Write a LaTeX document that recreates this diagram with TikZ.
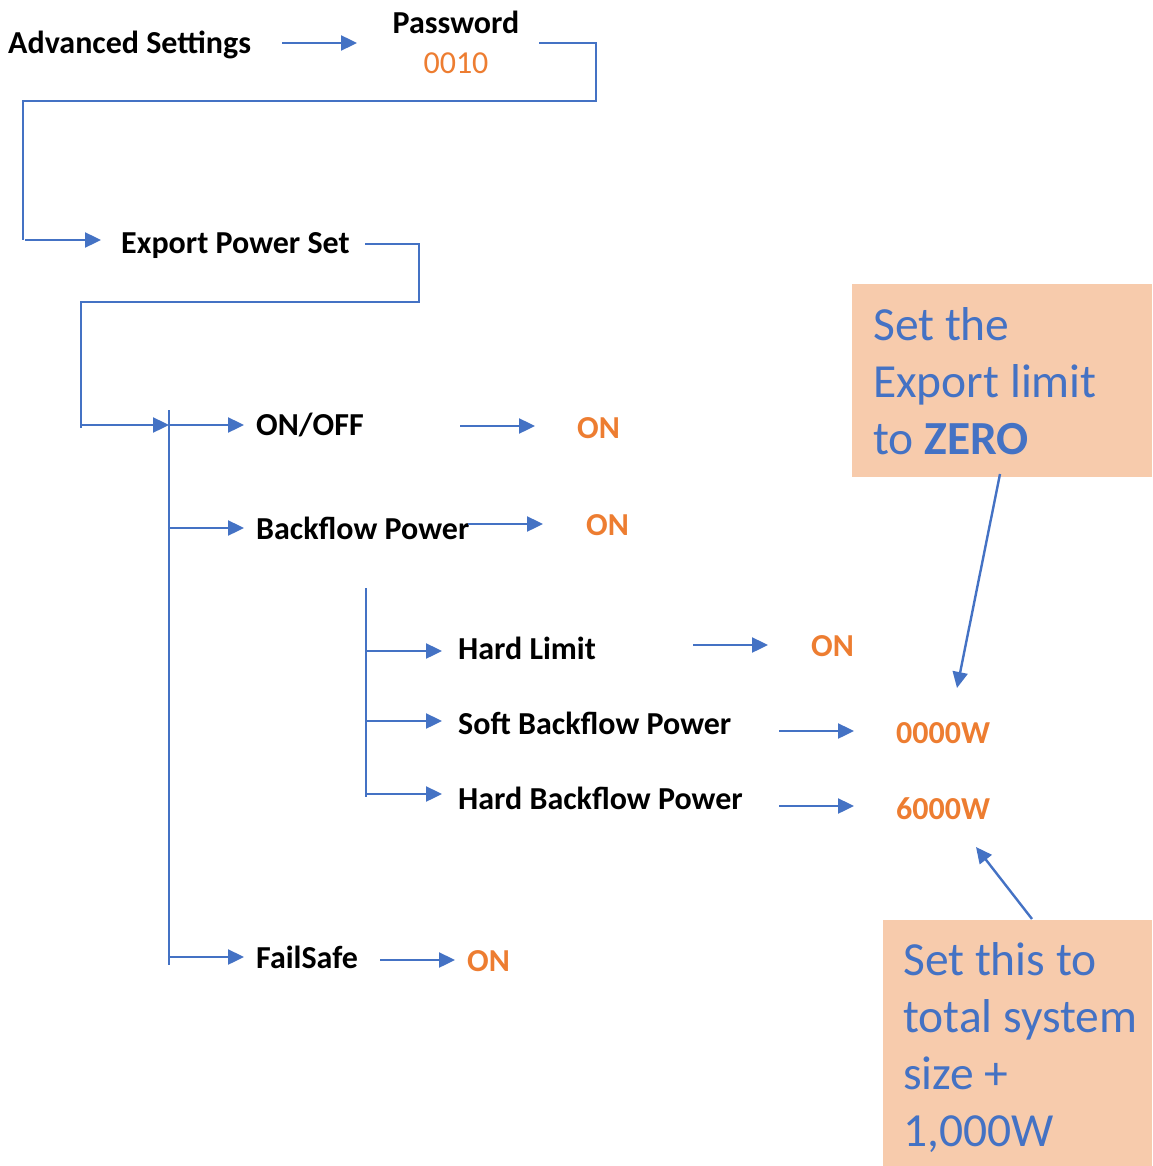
\documentclass[tikz,border=0pt]{standalone}
\usepackage{fontspec}
\setmainfont{Carlito}
\usetikzlibrary{arrows.meta}
\definecolor{lnblue}{HTML}{4472C4}
\definecolor{valorange}{HTML}{ED7D31}
\definecolor{notefill}{HTML}{F7CBAC}
\tikzset{
  lbl/.style={anchor=base west,inner sep=0pt,font=\fontsize{32}{38}\selectfont\bfseries,text=black},
  val/.style={anchor=base west,inner sep=0pt,font=\fontsize{32}{38}\selectfont\bfseries,text=valorange},
  noteline/.style={anchor=base west,inner sep=0pt,font=\fontsize{47.5}{57}\selectfont,text=lnblue},
  notebox/.style={anchor=north west,inner sep=0pt,fill=notefill,draw=none},
  arr/.style={draw=lnblue,line width=2.4pt,-{Triangle[length=16pt,width=15pt]}},
  wire/.style={draw=lnblue,line width=1.4pt},
}
\begin{document}
\begin{tikzpicture}[x=1pt,y=-1pt]
\useasboundingbox (0,0) rectangle (1152,1166);
% callout boxes
\node[notebox,minimum width=300pt,minimum height=193pt] (cz) at (852,284) {};
\node[notebox,minimum width=269pt,minimum height=246pt] (cs) at (883,920) {};
\node[noteline] (cz1) at (873,340) {Set the};
\node[noteline] (cz2) at (873,397) {Export limit};
\node[noteline] (cz3) at (873,454) {to \textbf{ZERO}};
\node[noteline] (cs1) at (903,975) {Set this to};
\node[noteline] (cs2) at (903,1032) {total system};
\node[noteline] (cs3) at (903,1089) {size +};
\node[noteline] (cs4) at (903,1146) {1,000W};
% labels
\node[lbl] (adv) at (8,54) {Advanced Settings};
\node[anchor=base,inner sep=0pt,font=\fontsize{32}{38}\selectfont\bfseries] (pwd) at (456,34) {Password};
\node[anchor=base,inner sep=0pt,font=\fontsize{32}{38}\selectfont,text=valorange] (pwdv) at (456,74) {0010};
\node[lbl] (eps) at (121,254) {Export Power Set};
\node[lbl] (onoff) at (256,435) {ON/OFF};
\node[val] (onoffv) at (577,438) {ON};
\node[lbl] (bfp) at (256,539) {Backflow Power};
\node[val] (bfpv) at (586,535) {ON};
\node[lbl] (hl) at (458,659) {Hard Limit};
\node[val] (hlv) at (811,656) {ON};
\node[lbl] (sbp) at (458,734) {Soft Backflow Power};
\node[val] (sbpv) at (896,743) {0000W};
\node[lbl] (hbp) at (458,809) {Hard Backflow Power};
\node[val] (hbpv) at (896,819) {6000W};
\node[lbl] (fs) at (256,968) {FailSafe};
\node[val] (fsv) at (467,971) {ON};
% coordinates
\coordinate (a1s) at (282,43); \coordinate (a1e) at (357,43);
\coordinate (p1) at (539,43); \coordinate (p2) at (596,43); \coordinate (p3) at (596,101);
\coordinate (p4) at (23,101); \coordinate (p5) at (23,240);
\coordinate (a2s) at (25,240); \coordinate (a2e) at (101,240);
\coordinate (e1) at (365,244); \coordinate (e2) at (419,244); \coordinate (e3) at (419,302);
\coordinate (e4) at (81,302); \coordinate (e5) at (81,428);
\coordinate (a3s) at (81,425); \coordinate (a3e) at (169,425);
\coordinate (bt) at (169,410); \coordinate (bb) at (169,965);
\coordinate (b2t) at (366,588); \coordinate (b2b) at (366,797);
% wires
\draw[arr] (a1s) -- (a1e);
\draw[wire] (p1) -- (p2) -- (p3) -- (p4) -- (p5);
\draw[arr] (a2s) -- (a2e);
\draw[wire] (e1) -- (e2) -- (e3) -- (e4) -- (e5);
\draw[arr] (a3s) -- (a3e);
\draw[wire] (bt) -- (bb);
\draw[arr] (169,425) -- (244,425);
\draw[arr] (169,528) -- (244,528);
\draw[arr] (169,957) -- (244,957);
\draw[arr] (460,426) -- (535,426);
\draw[arr] (468,524) -- (543,524);
\draw[arr] (380,960) -- (455,960);
\draw[wire] (b2t) -- (b2b);
\draw[arr] (367,651) -- (442,651);
\draw[arr] (367,721) -- (442,721);
\draw[arr] (367,794) -- (442,794);
\draw[arr] (693,645) -- (768,645);
\draw[arr] (779,731) -- (854,731);
\draw[arr] (779,806) -- (854,806);
% callout arrows
\coordinate (cza) at (1000,474); \coordinate (czb) at (957,688);
\coordinate (csa) at (1032,919); \coordinate (csb) at (976,847);
\draw[arr] (cza) -- (czb);
\draw[arr] (csa) -- (csb);
\end{tikzpicture}
\end{document}
